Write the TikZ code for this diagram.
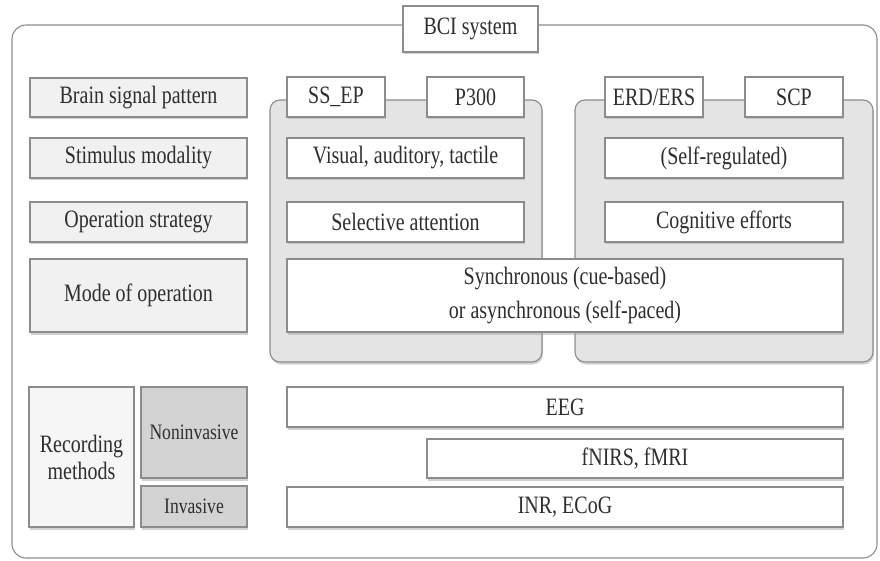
\documentclass[tikz,border=0pt]{standalone}
\usepackage{fontspec}
\setmainfont[FakeStretch=0.8]{Liberation Serif}
\usetikzlibrary{shadows}
\definecolor{txt}{HTML}{2E2E2E}
\definecolor{bordergray}{HTML}{8C8C8C}
\definecolor{lightfill}{HTML}{F1F1F1}
\definecolor{recfill}{HTML}{F6F6F6}
\definecolor{darkfill}{HTML}{D3D3D3}
\definecolor{groupfill}{HTML}{E4E4E4}
\newcommand\bx[7]{\node[#2, minimum width=#5pt, minimum height=#6pt] (#1) at (#3,#4) {#7};}
\begin{document}
\begin{tikzpicture}[x=1pt,y=-1pt,
  base/.style={draw=bordergray, line width=1.1pt, inner sep=0pt, text=txt,
    font=\fontsize{25}{34}\selectfont, align=center,
    drop shadow={shadow xshift=1pt, shadow yshift=-2.5pt, fill=black!35}},
  lbl/.style={base, fill=lightfill},
  recbox/.style={base, fill=recfill, font=\fontsize{25}{27}\selectfont},
  wbox/.style={base, fill=white},
  dbox/.style={base, fill=darkfill, font=\fontsize{22}{26}\selectfont},
  grp/.style={draw=bordergray, fill=groupfill, rounded corners=10pt, line width=1.1pt,
    inner sep=0pt, drop shadow={shadow xshift=1pt, shadow yshift=-2.5pt, fill=black!35}},
  frame/.style={draw=bordergray, rounded corners=14pt, line width=1.1pt, inner sep=0pt}]
\useasboundingbox (0,0) rectangle (880,561);
% outer frame
\bx{frame}{frame}{444.5}{291.5}{865}{533}{}
\bx{bci}{wbox}{470.5}{29}{135}{46}{BCI system}
% left labels
\bx{bsp}{lbl}{138.5}{97.5}{217}{39}{Brain signal pattern}
\bx{sm}{lbl}{138.5}{158}{217}{40}{Stimulus modality}
\bx{os}{lbl}{138.5}{222}{217}{40}{Operation strategy}
\bx{mo}{lbl}{138.5}{295.5}{217}{73}{Mode of operation}
\bx{rec}{recbox}{81.5}{457}{105}{140}{Recording\\methods}
\bx{non}{dbox}{194}{432.5}{106}{91}{Noninvasive}
\bx{inv}{dbox}{194}{506.5}{106}{41}{Invasive}
% groups
\bx{g1}{grp}{406}{231}{272}{262}{}
\bx{g2}{grp}{724}{231}{298}{262}{}
% group 1 contents
\bx{ssep}{wbox}{336}{97}{98}{40}{SS\_EP}
\bx{p300}{wbox}{475.5}{97}{97}{40}{P300}
\bx{vis}{wbox}{405.5}{158}{237}{40}{Visual, auditory, tactile}
\bx{sel}{wbox}{405.5}{222}{237}{40}{Selective attention}
% group 2 contents
\bx{erd}{wbox}{654}{97}{98}{40}{ERD/ERS}
\bx{scp}{wbox}{794}{97}{98}{40}{SCP}
\bx{selfr}{wbox}{724}{158}{238}{40}{(Self-regulated)}
\bx{cog}{wbox}{724}{222}{238}{40}{Cognitive efforts}
% shared
\bx{sync}{wbox}{565}{295.5}{556}{73}{Synchronous (cue-based)\\or asynchronous (self-paced)}
% recording
\bx{eeg}{wbox}{565}{407}{556}{40}{EEG}
\bx{fnirs}{wbox}{635}{458.5}{416}{39}{fNIRS, fMRI}
\bx{inr}{wbox}{565}{507}{556}{40}{INR, ECoG}
\end{tikzpicture}
\end{document}
